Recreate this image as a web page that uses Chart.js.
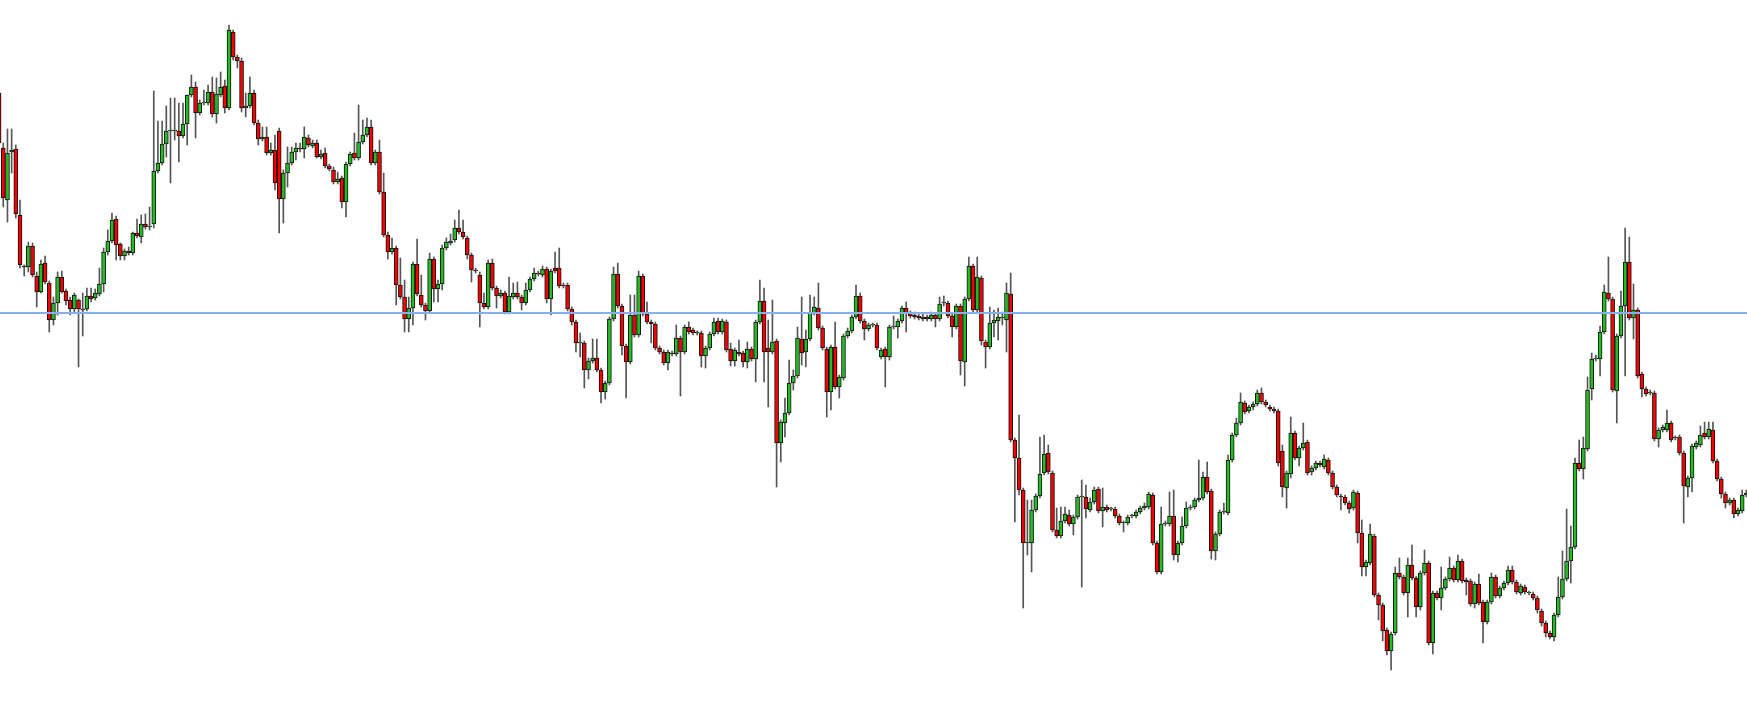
<!DOCTYPE html>
<html>
<head>
<meta charset="utf-8">
<title>Candles</title>
<script src="https://cdn.jsdelivr.net/npm/chart.js@4.4.1/dist/chart.umd.min.js"></script>
<style>
  html, body { margin: 0; padding: 0; background: #fff; }
  #wrap { width: 1747px; height: 711px; position: relative; }
</style>
</head>
<body>
<div id="wrap"><canvas id="chart"></canvas></div>
<script>
// price values in points, one entry per bar
const opens = [
  907,852,800,848,851,785,734,733,754,724,708,737,717,680,697,723,709,700,691,700,
  691,691,704,702,706,716,748,759,781,756,744,749,747,767,763,776,773,776,829,837,
  856,869,869,869,864,876,905,913,887,897,897,908,886,905,914,892,968,943,939,892,
  894,907,877,861,863,847,850,869,801,827,837,848,852,851,862,854,857,843,847,834,
  830,818,822,798,836,847,842,858,865,873,837,848,808,765,748,752,715,703,681,692,
  736,705,695,689,741,711,716,752,757,760,772,768,762,745,730,725,697,693,737,712,
  704,707,688,703,707,703,697,710,721,727,725,731,701,732,732,715,715,691,678,657,
  657,630,639,642,630,608,617,681,726,694,654,638,685,665,724,686,678,676,652,648,
  637,647,646,662,648,673,670,667,667,644,652,666,679,668,678,651,639,648,647,638,
  651,641,678,699,652,648,659,557,577,587,617,624,661,648,661,687,692,672,651,608,
  653,613,622,664,669,683,704,679,671,675,675,643,651,643,673,673,679,692,687,685,
  684,681,683,681,685,681,697,697,684,673,694,638,701,734,690,722,658,653,677,679,
  682,680,706,560,542,510,457,457,490,504,527,547,527,470,464,479,485,476,483,503,
  503,490,498,511,489,493,491,491,484,477,477,484,484,488,492,493,505,457,428,476,
  476,484,445,457,474,492,493,500,502,523,509,449,466,488,487,540,565,577,597,589,
  593,596,607,598,593,591,589,549,512,526,567,542,552,558,528,532,537,533,540,527,
  513,504,503,497,492,507,467,433,437,464,405,395,370,349,367,427,423,407,435,422,
  393,427,437,357,407,402,412,421,432,420,439,420,419,396,416,398,378,398,423,404,
  412,417,430,418,407,413,407,406,402,389,377,367,363,385,403,421,439,453,537,531,
  551,611,641,641,668,707,701,609,664,694,738,682,690,626,611,607,607,561,570,570,
  577,562,563,547,513,522,553,555,567,563,570,539,521,506,497,500,486,489,505
];
const highs = [
  912,857,871,871,855,800,735,758,757,728,740,744,719,703,728,729,711,703,707,701,
  707,712,712,711,732,752,770,787,784,757,751,753,768,781,785,786,793,909,879,879,
  894,902,902,897,897,905,925,918,900,910,915,923,922,928,920,975,970,945,942,907,
  923,910,880,873,873,857,865,872,830,853,853,857,857,873,865,860,860,850,852,836,
  833,828,824,838,848,867,895,880,882,880,850,860,827,768,762,754,742,720,703,738,
  761,725,697,747,743,720,755,762,766,780,790,780,764,747,732,728,707,740,741,714,
  710,709,723,717,718,705,717,723,732,729,734,733,731,748,752,717,717,693,680,667,
  659,642,661,661,632,619,683,733,737,696,656,705,705,729,726,698,680,678,654,650,
  650,649,675,664,675,678,672,669,669,654,668,682,682,681,680,657,652,660,649,658,
  653,680,720,712,680,700,661,580,602,640,630,673,703,670,705,703,717,674,653,655,
  678,625,666,672,685,715,707,681,677,677,677,652,653,675,684,681,694,698,689,688,
  686,686,685,688,687,703,704,699,686,696,696,703,743,736,743,724,660,693,690,692,
  688,717,727,562,585,512,500,500,506,563,565,555,529,492,493,493,490,485,505,520,
  515,502,513,513,512,495,493,493,486,479,485,486,490,494,497,508,507,459,493,479,
  508,510,459,483,498,495,502,540,528,538,511,468,490,497,545,567,582,607,599,595,
  598,610,612,600,595,593,591,555,529,583,569,554,577,560,534,539,539,545,542,529,
  515,506,505,499,510,509,480,440,476,466,407,397,372,368,433,442,425,442,455,424,
  429,450,439,409,409,433,423,443,434,445,441,422,421,418,426,400,400,427,425,414,
  419,434,434,420,416,415,409,408,404,391,379,369,387,423,449,491,474,542,560,563,
  623,647,645,674,715,743,703,666,709,772,763,716,692,628,613,610,609,572,575,590,
  579,564,565,549,524,556,559,574,578,578,578,541,523,508,502,502,492,510,510
];
const lows = [
  850,793,778,827,782,732,724,728,723,693,707,716,668,675,685,707,695,685,687,633,
  664,689,698,700,704,708,745,757,740,740,740,745,745,762,757,771,770,772,827,835,
  843,817,860,838,862,855,903,862,885,895,895,883,877,903,887,890,940,932,888,883,
  892,875,855,859,845,845,810,767,777,813,835,840,848,842,853,852,842,841,832,829,
  816,816,792,783,834,840,840,856,863,835,835,806,763,741,746,695,701,668,668,675,
  704,693,680,687,698,698,710,750,755,758,766,761,741,718,727,673,691,691,710,692,
  702,686,686,701,701,690,695,708,719,724,723,697,685,727,712,712,689,675,648,643,
  612,621,637,628,597,601,615,679,692,645,602,636,663,663,684,676,657,650,646,635,
  630,644,644,604,646,666,665,665,633,632,650,664,666,666,648,634,634,644,633,632,
  639,618,676,618,593,646,513,538,563,585,610,622,635,633,659,685,670,650,583,590,
  611,602,620,662,667,681,677,660,669,673,650,641,613,640,671,662,677,668,682,681,
  680,679,679,679,673,679,694,682,663,671,625,614,699,688,688,655,632,651,663,660,
  675,648,558,478,505,392,445,428,488,502,525,526,468,462,462,477,474,465,481,413,
  482,488,496,487,473,488,489,482,475,468,475,482,482,486,490,491,455,426,426,474,
  474,440,438,455,472,490,491,498,500,506,441,440,464,486,485,538,563,575,586,587,
  590,594,596,593,589,587,534,503,492,522,540,534,550,525,525,530,533,531,525,511,
  503,490,495,487,490,457,424,424,435,403,380,359,345,330,365,421,405,383,420,383,
  390,425,355,346,400,390,410,419,418,418,417,405,394,392,395,357,376,396,402,402,
  410,415,416,406,405,406,405,400,387,374,363,361,359,383,401,419,417,451,529,521,
  549,600,639,624,666,699,608,577,662,624,680,661,622,603,604,605,559,553,568,568,
  558,560,545,477,503,508,551,553,561,561,537,519,502,492,495,482,484,487,503
];
const closes = [
  857,802,847,850,786,735,733,754,725,708,736,718,680,697,723,708,699,691,705,691,
  690,704,701,707,716,748,759,780,755,744,749,747,767,764,776,773,773,829,837,856,
  869,870,869,864,876,905,913,887,897,898,908,886,906,913,892,970,943,939,892,894,
  907,877,861,863,847,850,817,801,827,837,848,852,851,863,855,857,843,846,834,831,
  818,821,798,836,846,842,858,865,873,837,848,808,765,748,752,715,703,681,692,736,
  706,695,689,741,711,716,752,758,759,772,768,763,745,730,729,697,693,737,712,704,
  707,688,704,707,703,697,710,721,727,726,731,701,729,729,714,714,691,678,657,657,
  630,639,642,630,608,617,681,726,694,654,638,685,665,724,686,678,676,652,648,637,
  648,646,662,648,673,668,667,667,644,652,666,678,668,679,650,639,650,646,638,651,
  641,678,699,648,648,658,557,578,587,617,624,662,647,661,687,693,672,652,608,653,
  613,623,664,669,683,704,679,671,675,675,652,650,643,673,673,679,692,687,684,683,
  682,683,681,685,681,696,697,684,673,694,639,701,734,690,723,659,653,677,680,683,
  682,707,560,542,510,457,457,490,504,526,546,528,470,464,479,486,476,483,503,504,
  491,498,510,489,493,490,491,484,477,477,483,484,488,492,494,506,457,428,476,477,
  484,445,457,474,492,492,500,502,523,508,449,466,488,488,540,565,577,598,588,593,
  596,607,598,595,591,589,537,513,527,567,542,552,557,527,532,537,535,541,527,513,
  505,503,497,491,508,467,433,438,466,405,395,369,349,366,427,423,407,435,422,393,
  427,437,357,407,402,412,421,432,420,439,419,418,396,416,397,378,398,423,404,412,
  417,430,418,408,414,408,407,402,390,377,367,363,385,403,421,439,453,537,531,552,
  610,641,641,668,708,701,610,664,694,738,682,690,624,611,606,607,561,570,573,577,
  560,562,547,514,522,554,557,565,563,571,539,521,506,497,500,486,490,505,507
];
// horizontal price level
const levelPrice = 687;

const X_MIN = 0.215;
const X_MAX = 418.15;

const bars = opens.map((o, i) => i);
const bodyColors = bars.map((i) => (closes[i] >= opens[i] ? '#25bb25' : '#f40000'));

const ctx = document.getElementById('chart').getContext('2d');

new Chart(ctx, {
  type: 'bar',
  data: {
    datasets: [
      {
        type: 'line',
        data: [{ x: X_MIN, y: levelPrice }, { x: X_MAX, y: levelPrice }],
        borderColor: '#86aff2',
        borderWidth: 2,
        pointRadius: 0,
        order: 0,
      },
      {
        label: 'body',
        data: bars.map((i) => ({ x: i, y: [opens[i], closes[i]] })),
        backgroundColor: bodyColors,
        borderColor: '#111',
        borderWidth: 1,
        borderSkipped: false,
        barThickness: 4,
        minBarLength: 1,
        grouped: false,
        order: 1,
      },
      {
        label: 'wick',
        data: bars.map((i) => ({ x: i, y: [lows[i], highs[i]] })),
        backgroundColor: '#555',
        borderWidth: 0,
        barThickness: 1,
        grouped: false,
        order: 2,
      },
    ],
  },
  options: {
    responsive: true,
    maintainAspectRatio: false,
    animation: false,
    devicePixelRatio: 1,
    layout: { padding: 0 },
    scales: {
      x: { type: 'linear', min: X_MIN, max: X_MAX, display: false, offset: false },
      y: { min: 289, max: 1000, display: false },
    },
    plugins: {
      legend: { display: false },
      tooltip: { enabled: false },
    },
  },
});
</script>
</body>
</html>
